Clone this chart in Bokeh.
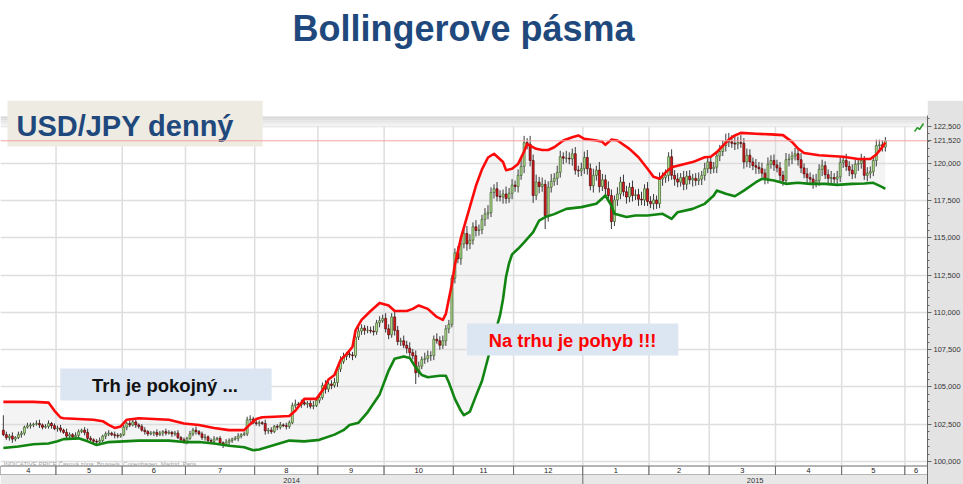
import pandas as pd
from bokeh.plotting import figure
from bokeh.layouts import column
from bokeh.models import Range1d, FixedTicker, CustomJSTickFormatter, ColumnDataSource, Grid, Span
from bokeh.core.properties import value
from bokeh.embed import file_html
from bokeh.resources import INLINE

# ---------------- data ----------------
first_day = "2014-04-07"
axis_last_day = "2015-06-30"
first_open = 102.1
last_price = 121.52

close_2014_04 = [101.8, 101.6, 101.7, 101.5, 101.6, 101.8, 101.9, 102.3, 102.4, 102.45, 102.5, 102.55, 102.45, 102.3, 102.35, 102.55, 102.4, 102.2]
close_2014_05 = [102.25, 102.1, 101.95, 101.7, 101.8, 101.65, 101.75, 102.0, 102.1, 101.95, 101.55, 101.45, 101.35, 101.3, 101.4, 101.7, 101.85, 101.9, 101.8, 101.75, 101.7, 101.8]
close_2014_06 = [102.3, 102.55, 102.45, 102.65, 102.45, 102.35, 102.1, 102.0, 101.85, 101.9, 101.95, 101.8, 101.9, 102.0, 101.9, 101.95, 101.85, 101.9, 101.6, 101.45, 101.35]
close_2014_07 = [101.55, 101.85, 102.1, 102.0, 101.85, 101.6, 101.65, 101.4, 101.35, 101.5, 101.55, 101.25, 101.15, 101.3, 101.4, 101.5, 101.55, 101.7, 101.8, 101.85, 102.8, 102.85, 102.6]
close_2014_08 = [102.55, 102.6, 102.55, 102.05, 102.1, 102.0, 102.35, 102.3, 102.45, 102.4, 102.35, 102.6, 103.75, 103.85, 103.8, 103.95, 103.85, 103.9, 103.7, 103.75, 104.1]
close_2014_09 = [104.3, 105.1, 104.85, 105.2, 105.1, 105.3, 106.2, 106.7, 107.05, 107.2, 107.15, 107.1, 108.35, 108.75, 108.95, 108.8, 108.8, 108.75, 108.7, 109.3, 109.45, 109.6]
close_2014_10 = [108.9, 108.5, 109.7, 108.8, 108.05, 108.1, 107.8, 107.6, 107.3, 107.1, 105.95, 106.4, 106.85, 106.9, 107.1, 107.1, 108.2, 108.1, 107.8, 108.1, 108.9, 109.2, 112.3]
close_2014_11 = [114.0, 113.6, 114.6, 115.3, 114.6, 114.85, 115.75, 115.5, 115.55, 116.25, 116.6, 116.7, 118.05, 118.3, 117.8, 117.75, 117.95, 117.65, 118.0, 118.55]
close_2014_12 = [118.45, 119.2, 119.8, 121.4, 121.3, 120.2, 117.85, 118.75, 118.45, 118.6, 116.5, 118.4, 118.8, 119.0, 119.4, 120.45, 120.35, 120.35, 120.3, 120.65, 119.55, 119.5, 119.65]
close_2015_01 = [120.4, 119.65, 118.5, 119.2, 119.55, 118.45, 118.9, 118.3, 117.85, 116.1, 117.55, 117.95, 118.75, 118.1, 117.75, 118.4, 117.85, 117.9, 117.6, 117.55, 118.3, 117.45]
close_2015_02 = [117.3, 117.55, 117.3, 118.95, 119.05, 119.2, 120.45, 119.2, 118.95, 118.75, 119.05, 118.6, 119.15, 118.9, 119.0, 118.85, 118.95, 119.2, 119.65, 120.1]
close_2015_03 = [119.65, 119.75, 120.5, 120.8, 121.2, 121.5, 121.45, 121.35, 121.3, 121.4, 121.35, 120.1, 120.55, 120.1, 119.85, 119.75, 119.65, 119.35, 119.0, 119.95, 120.2, 119.9]
close_2015_04 = [119.7, 119.2, 118.85, 120.25, 120.3, 120.5, 120.65, 120.25, 119.7, 119.3, 119.05, 118.95, 118.7, 118.85, 119.6, 119.85, 119.25, 119.0, 119.05, 118.95, 119.1, 120.05]
close_2015_05 = [120.2, 119.8, 119.55, 119.3, 119.95, 120.0, 120.2, 119.2, 119.35, 119.45, 120.2, 121.2, 121.25, 121.1, 121.52]

# wick length above / below the candle body (yen)
up_2014_04 = [1.0, .2, .15, .25, .1, .2, .15, .1, .2, .15, .1, .2, .25, .1, .15, .2, .1, .15]
up_2014_05 = [.15, .2, .1, .25, .15, .1, .2, .15, .1, .2, .25, .15, .1, .15, .2, .1, .15, .2, .1, .2, .15, .1]
up_2014_06 = [.15, .1, .2, .15, .25, .1, .15, .2, .1, .15, .1, .2, .15, .1, .2, .15, .1, .15, .2, .1, .15]
up_2014_07 = [.1, .2, .15, .25, .1, .15, .2, .1, .15, .2, .1, .15, .1, .2, .15, .1, .15, .2, .1, .15, .2, .25, .15]
up_2014_08 = [.2, .15, .1, .25, .15, .2, .1, .15, .2, .1, .2, .15, .2, .3, .15, .2, .25, .15, .2, .3, .2]
up_2014_09 = [.3, .2, .35, .15, .25, .3, .2, .35, .25, .15, .3, .2, .3, .35, .25, .2, .3, .25, .35, .2, .3, .25]
up_2014_10 = [.35, .3, .25, .4, .3, .2, .35, .3, .4, .25, .35, .3, .2, .4, .35, .3, .25, .4, .3, .35, .25, .3, .2]
up_2014_11 = [.3, .45, .35, .3, .5, .4, .3, .45, .35, .3, .4, .5, .35, .3, .45, .4, .3, .5, .35, .4]
up_2014_12 = [.3, .4, .5, .45, .3, .55, .4, .5, .35, .45, .3, .4, .5, .35, .45, .4, .3, .5, .4, .35, .45, .3, .4]
up_2015_01 = [.4, .5, .35, .45, .3, .55, .4, .35, .5, .4, .3, .45, .35, .5, .4, .3, .45, .35, .4, .5, .3, .45]
up_2015_02 = [.35, .4, .3, .45, .35, .4, .3, .5, .35, .4, .3, .45, .35, .4, .3, .35, .45, .3, .4, .35]
up_2015_03 = [.4, .35, .3, .45, .35, .5, .55, .45, .5, .4, .5, .35, .45, .4, .3, .45, .35, .4, .3, .45, .35, .4]
up_2015_04 = [.35, .4, .3, .45, .35, .3, .4, .35, .45, .3, .4, .35, .3, .45, .35, .4, .3, .35, .45, .3, .4, .35]
up_2015_05 = [.3, .45, .35, .4, .3, .35, .45, .3, .4, .35, .3, .4, .35, .3, .25]

dn_2014_04 = [.1, .15, .2, .25, .15, .1, .2, .15, .1, .2, .15, .1, .2, .15, .1, .15, .2, .1]
dn_2014_05 = [.2, .15, .1, .2, .15, .1, .2, .15, .1, .2, .15, .1, .2, .25, .15, .1, .2, .15, .1, .2, .15, .1]
dn_2014_06 = [.1, .2, .15, .1, .2, .15, .1, .2, .15, .1, .2, .15, .1, .2, .15, .1, .2, .15, .1, .2, .15]
dn_2014_07 = [.2, .1, .15, .2, .1, .15, .2, .1, .15, .2, .1, .15, .25, .1, .2, .15, .1, .2, .15, .1, .15, .2, .1]
dn_2014_08 = [.15, .2, .1, .25, .2, .15, .1, .2, .15, .1, .2, .15, .1, .2, .15, .2, .1, .25, .15, .2, .1]
dn_2014_09 = [.2, .15, .3, .2, .25, .15, .3, .2, .15, .25, .2, .3, .15, .2, .25, .3, .2, .15, .25, .2, .3, .15]
dn_2014_10 = [.25, .3, .2, .35, .25, .3, .2, .35, .3, .25, .75, .3, .2, .3, .25, .35, .3, .2, .3, .25, .35, .3, .2]
dn_2014_11 = [.35, .3, .4, .3, .45, .35, .3, .4, .35, .3, .45, .35, .3, .4, .35, .3, .45, .35, .3, .4]
dn_2014_12 = [.35, .4, .3, .45, .35, .4, .5, .3, .45, .35, .9, .4, .35, .3, .45, .35, .4, .3, .35, .45, .3, .4, .35]
dn_2015_01 = [.35, .4, .3, .45, .35, .4, .3, .45, .35, .5, .3, .4, .35, .3, .45, .35, .4, .3, .45, .35, .4, .3]
dn_2015_02 = [.3, .4, .35, .3, .45, .35, .4, .3, .45, .35, .3, .4, .35, .3, .45, .35, .3, .4, .35, .3]
dn_2015_03 = [.35, .3, .4, .35, .3, .4, .35, .3, .4, .35, .3, .45, .35, .4, .3, .45, .35, .3, .4, .35, .3, .4]
dn_2015_04 = [.3, .4, .35, .3, .45, .35, .3, .4, .35, .3, .45, .35, .4, .3, .35, .45, .3, .4, .35, .3, .4, .35]
dn_2015_05 = [.35, .3, .4, .35, .3, .45, .35, .3, .4, .35, .3, .4, .35, .3, .3]

# Bollinger bands: (trading-day index, value)
band_upper = [(0, 104.0), (5, 104.0), (10, 104.0), (15, 103.95), (17, 103.4), (19, 102.95), (20, 102.9), (25, 102.85),
              (30, 102.8), (33, 102.7), (35, 102.45), (37, 102.25), (39, 102.35), (41, 102.8), (45, 102.9), (50, 102.85),
              (55, 102.8), (60, 102.55), (65, 102.45), (70, 102.25), (75, 102.1), (80, 102.1), (82, 102.5), (84, 102.85),
              (86, 102.97), (90, 103.0), (95, 103.05), (97, 103.4), (100, 104.2), (104, 104.2), (106, 104.76), (108, 105.5),
              (110, 105.8), (112, 106.8), (114, 107.2), (116, 107.7), (117, 108.8), (119, 109.5), (122, 110.1), (125, 110.64),
              (128, 110.47), (130, 110.1), (134, 110.1), (136, 110.24), (138, 110.47), (141, 110.24), (144, 109.7), (146, 109.5),
              (147, 109.9), (148, 110.9), (149, 111.9), (150, 113.2), (152, 115.0), (155, 117.1), (157, 118.5), (159, 119.6),
              (161, 120.4), (163, 120.65), (166, 120.1), (167, 119.55), (169, 119.64), (171, 119.97), (173, 120.8), (174, 121.3),
              (177, 120.98), (179, 120.9), (181, 120.9), (183, 121.09), (186, 121.54), (189, 121.76), (191, 121.88), (193, 121.65),
              (197, 121.54), (199, 121.45), (200, 121.25), (202, 121.6), (204, 121.54), (208, 120.98), (211, 120.42), (214, 119.64),
              (216, 119.1), (218, 118.97), (220, 119.4), (222, 119.75), (225, 119.9), (229, 120.09), (233, 120.42), (235, 120.45),
              (237, 120.76), (241, 121.6), (243, 121.88), (245, 122.05), (250, 121.99), (255, 121.95), (259, 121.9), (262, 121.45),
              (264, 121.0), (266, 120.7), (271, 120.55), (275, 120.5), (279, 120.45), (284, 120.3), (288, 120.3), (290, 120.6),
              (292, 121.1), (293, 121.4)]
band_lower = [(0, 100.9), (5, 101.0), (10, 101.15), (15, 101.2), (18, 101.35), (20, 101.5), (25, 101.55), (28, 101.35),
              (31, 101.1), (35, 101.3), (40, 101.35), (45, 101.4), (50, 101.4), (55, 101.4), (60, 101.3), (65, 101.3),
              (70, 101.2), (75, 101.05), (80, 100.95), (83, 100.75), (85, 100.8), (90, 101.1), (95, 101.4), (100, 101.35),
              (105, 101.45), (110, 101.8), (113, 102.1), (115, 102.45), (118, 102.6), (121, 103.3), (125, 104.5), (128, 106.1),
              (130, 106.9), (133, 107.05), (135, 106.95), (137, 106.3), (139, 105.8), (141, 105.65), (145, 105.75), (147, 105.75),
              (148, 105.3), (150, 104.2), (152, 103.4), (153, 103.1), (155, 103.35), (157, 104.4), (159, 105.4), (162, 107.7),
              (165, 109.8), (166, 110.9), (167, 112.4), (168, 113.3), (169, 113.9), (171, 114.27), (173, 114.7), (176, 115.39),
              (178, 116.17), (180, 116.4), (183, 116.6), (187, 116.95), (192, 117.07), (197, 117.29), (200, 117.85), (202, 117.18),
              (203, 116.62), (207, 116.4), (210, 116.51), (214, 116.51), (219, 116.62), (222, 116.28), (224, 116.73), (229, 116.95),
              (233, 117.29), (236, 117.85), (237, 118.18), (240, 117.96), (243, 117.8), (246, 118.18), (250, 118.74), (252, 118.97),
              (256, 118.86), (260, 118.63), (264, 118.7), (268, 118.63), (273, 118.63), (277, 118.56), (282, 118.63), (286, 118.65),
              (289, 118.7), (292, 118.41), (293, 118.3)]

y_ticks = [100.0, 102.5, 105.0, 107.5, 110.0, 112.5, 115.0, 117.5, 120.0, 122.5]
month_labels = ["4", "5", "6", "7", "8", "9", "10", "11", "12", "1", "2", "3", "4", "5", "6"]
year_labels = ["2014", "2015"]

title_text = "Bollingerove pásma"
pair_text = "USD/JPY denný"
calm_text = "Trh je pokojný ..."
move_text = "Na trhu je pohyb !!!"
source_text = "INDICATIVE PRICE    Časová zóna: Brussels, Copenhagen, Madrid, Paris"

# ---------------- assemble series ----------------
close = sum([close_2014_04, close_2014_05, close_2014_06, close_2014_07, close_2014_08, close_2014_09, close_2014_10,
             close_2014_11, close_2014_12, close_2015_01, close_2015_02, close_2015_03, close_2015_04, close_2015_05], [])
up_wick = sum([up_2014_04, up_2014_05, up_2014_06, up_2014_07, up_2014_08, up_2014_09, up_2014_10,
               up_2014_11, up_2014_12, up_2015_01, up_2015_02, up_2015_03, up_2015_04, up_2015_05], [])
dn_wick = sum([dn_2014_04, dn_2014_05, dn_2014_06, dn_2014_07, dn_2014_08, dn_2014_09, dn_2014_10,
               dn_2014_11, dn_2014_12, dn_2015_01, dn_2015_02, dn_2015_03, dn_2015_04, dn_2015_05], [])
assert len(close) == len(up_wick) == len(dn_wick), (len(close), len(up_wick), len(dn_wick))

opn = [first_open] + close[:-1]
idx = list(range(len(close)))
top = [max(o, c) for o, c in zip(opn, close)]
bot = [min(o, c) for o, c in zip(opn, close)]
hi = [t + u for t, u in zip(top, up_wick)]
lo = [b - d for b, d in zip(bot, dn_wick)]
up_mask = [c >= o for o, c in zip(opn, close)]

def pick(seq, m, flag):
    return [v for v, k in zip(seq, m) if k == flag]

src_up = ColumnDataSource(dict(x=pick(idx, up_mask, True), top=pick(top, up_mask, True), bot=pick(bot, up_mask, True)))
src_dn = ColumnDataSource(dict(x=pick(idx, up_mask, False), top=pick(top, up_mask, False), bot=pick(bot, up_mask, False)))
src_wick = ColumnDataSource(dict(x=idx, hi=hi, lo=lo))

ux = [a for a, b in band_upper]; uy = [b for a, b in band_upper]
lx = [a for a, b in band_lower]; ly = [b for a, b in band_lower]

days_axis = pd.bdate_range(first_day, axis_last_day)
mid = days_axis.year * 12 + days_axis.month
starts = [0] + [k for k in range(1, len(mid)) if mid[k] != mid[k - 1]]
year_start = [k for k in range(1, len(days_axis)) if days_axis.year[k] != days_axis.year[k - 1]][0]
month_bounds = [s - 0.5 for s in starts[1:]]

# ---------------- layout / geometry (pixel helpers) ----------------
W, H = 963, 484
TOP_H = 100
AXIS_W = 33

def RX(px):
    return (px - 2.85) / 3.02

def RY(py):
    return 122.5 - (py - 125.7) / 14.9

X0, X1 = RX(0), RX(W - AXIS_W)
Y0, Y1 = RY(H), RY(TOP_H)

FONT = value("Liberation Sans")

# ---- title strip ----
head = figure(width=W, height=TOP_H, x_range=Range1d(0, W), y_range=Range1d(TOP_H, 0),
              output_backend="svg", toolbar_location=None, x_axis_location=None, y_axis_location=None,
              min_border=0)
head.outline_line_color = None
head.background_fill_color = "white"
head.border_fill_color = "white"
head.grid.visible = False
head.text(x=[481], y=[28], text=[title_text], text_font=FONT, text_font_size="36px", text_font_style="bold",
          text_color="#1F497D", text_align="center", text_baseline="middle")
head.quad(left=7, right=263, top=TOP_H, bottom=103, fill_color="#EEEBE2", line_color=None)

# ---- chart ----
p = figure(width=W, height=H - TOP_H, x_range=Range1d(X0, X1), y_range=Range1d(Y0, Y1),
           output_backend="svg", toolbar_location=None, x_axis_location=None, y_axis_location="right",
           min_border_left=0, min_border_right=AXIS_W, min_border_top=0, min_border_bottom=0)
p.outline_line_color = None
p.background_fill_color = "white"
p.border_fill_color = "#E3E3E3"
for g in p.grid:
    g.visible = False

ax = p.yaxis[0]
ax.ticker = FixedTicker(ticks=y_ticks + [last_price], minor_ticks=[100 + 0.5 * k for k in range(47)])
ax.formatter = CustomJSTickFormatter(code="return tick.toFixed(3).replace('.', ',');")
ax.bounds = (Y0, RY(115))
ax.axis_line_color = "#666666"
ax.major_tick_line_color = "#666666"
ax.minor_tick_line_color = "#666666"
ax.major_tick_out = 4
ax.major_tick_in = 0
ax.minor_tick_out = 2
ax.minor_tick_in = 0
ax.major_label_standoff = 2
ax.major_label_text_font = "Liberation Sans"
ax.major_label_text_font_size = "7.5px"
ax.major_label_text_color = "#333333"

# horizontal grid
p.add_layout(Grid(dimension=1, ticker=FixedTicker(ticks=y_ticks), grid_line_color="#DEDEDE", grid_line_width=1.5,
                  bounds=(X0, X1)))

# chart header gradient
hdr_cols = ["#D6D6D6", "#DDDDDD", "#E4E4E4", "#EBEBEB", "#F3F3F3"]
for k, c in enumerate(hdr_cols):
    p.quad(left=X0, right=X1, top=RY(116 + 2 * k), bottom=RY(118 + 2 * k), fill_color=c, line_color=None)

# vertical month grid lines (only inside the chart body)
p.segment(x0=month_bounds, y0=RY(465), x1=month_bounds, y1=RY(126), line_color="#DEDEDE", line_width=1.5)

# band fill
p.patch(ux + lx[::-1], uy + ly[::-1], fill_color="#D8D8D8", fill_alpha=0.28, line_color=None)

# last price line
p.add_layout(Span(location=last_price, dimension="width", line_color="#F5A3A3", line_width=1))

# small trend icon
p.line([RX(917), RX(920), RX(922), RX(926)], [RY(131), RY(127), RY(129), RY(123)], line_color="#2E9B2E", line_width=1.6)

# candles
p.segment(x0="x", y0="hi", x1="x", y1="lo", source=src_wick, line_color="#3A3A3A", line_width=1)
p.vbar(x="x", width=0.66, top="top", bottom="bot", source=src_up, fill_color="#B4E28C", line_color="#3F5F2F", line_width=0.7)
p.vbar(x="x", width=0.66, top="top", bottom="bot", source=src_dn, fill_color="#E5161B", line_color="#4A0A0A", line_width=0.7)

# bands
p.line(ux, uy, line_color="#FF0A0A", line_width=2.6, line_join="round")
p.line(lx, ly, line_color="#118411", line_width=2.6, line_join="round")

# bottom time axis rows
cell_left = [X0] + month_bounds
cell_right = month_bounds + [X1]
p.quad(left=cell_left, right=cell_right, top=RY(465.5), bottom=RY(474.5), fill_color="white", line_color="#6A6A6A", line_width=1)
p.text(x=[(a + b) / 2 for a, b in zip(cell_left, cell_right)], y=RY(470.3), text=month_labels[:len(cell_left)],
       text_font=FONT, text_font_size="7.5px", text_color="#222222", text_align="center", text_baseline="middle")
p.quad(left=X0, right=X1, top=RY(474.5), bottom=Y0, fill_color="#E8E8E8", line_color=None)
yb = year_start - 0.5
p.segment(x0=[yb], y0=[RY(474.5)], x1=[yb], y1=[Y0], line_color="#6A6A6A", line_width=1)
p.text(x=[(X0 + yb) / 2, (yb + X1) / 2], y=RY(479.5), text=year_labels, text_font=FONT, text_font_size="7.5px",
       text_color="#333333", text_align="center", text_baseline="middle")
p.text(x=[RX(3)], y=[RY(463)], text=[source_text], text_font=FONT, text_font_size="6px",
       text_color="#A0A0A0", text_align="left", text_baseline="middle")

# annotation boxes
p.quad(left=RX(7), right=RX(263), top=RY(100), bottom=RY(146), fill_color="#EEEBE2", line_color=None)
p.text(x=[RX(16)], y=[RY(125)], text=[pair_text], text_font=FONT, text_font_size="29px", text_font_style="bold",
       text_color="#1F497D", text_align="left", text_baseline="middle")
p.quad(left=RX(60), right=RX(272), top=RY(368), bottom=RY(400), fill_color="#DCE6F2", line_color=None)
p.text(x=[RX(165)], y=[RY(384.5)], text=[calm_text], text_font=FONT, text_font_size="18.5px", text_font_style="bold",
       text_color="#111111", text_align="center", text_baseline="middle")
p.quad(left=RX(468), right=RX(680), top=RY(323), bottom=RY(355), fill_color="#DCE6F2", line_color=None)
p.text(x=[RX(574)], y=[RY(339.5)], text=[move_text], text_font=FONT, text_font_size="18.3px", text_font_style="bold",
       text_color="#FF0000", text_align="center", text_baseline="middle")

layout = column(head, p, spacing=0)
open("out.html", "w").write(file_html(layout, INLINE))
